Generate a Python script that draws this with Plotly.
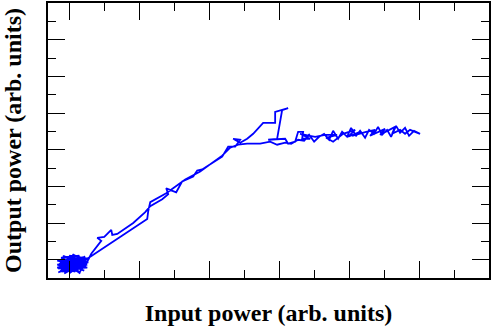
import plotly.graph_objects as go

# input / output power, arbitrary units
# noisy cluster at low power
blob_x = [-9, 6, -11, 13, -6, 1, 17, -12, 9, -3, 15, -9, 4, 19, -7, 11, -1, 16, -10, 7,
          -5, 13, 1, -12, 18, -2, 10, -8, 5, 16, -4, 9, -11, 2, 15, -6, 12, 0, 19,
          -10, 8, -3, 14, -8, 3, 17, -5, 6, -12, 11, -1, 18, -7, 4, 13, -9, 10, 19]
blob_y = [-3, 1, -9, -5, 4, -13, -1, -5, -11, 3, -7, -12, 5, -3, 0, -14, -3, 3, -7, -7,
          -14, 1, 1, -1, -8, -9, 4, 2, -11, -4, -5, -2, -13, -6, -11, -3, -9, 4, 1,
          -4, -8, -12, 0, -10, 2, -6, -1, -12, -8, -1, -10, -5, -12, 3, -6, -2, -13, 0]

# rising branch and plateau
up_x = [22, 32, 28, 35, 42, 43, 48, 64, 76, 81, 93, 99, 97, 107, 113, 124, 128, 133, 153, 159,
        166, 171, 164, 171, 178, 184, 194, 206, 206, 219, 213, 208, 199, 216, 219, 226, 229, 234,
        233, 241, 231, 246, 256, 268, 257, 264, 274, 286, 279, 291, 283, 297, 306, 301, 316, 311,
        326, 323, 331, 336, 341, 351]
up_y = [6, 19, 22, 23, 30, 25, 26, 37, 48, 54, 61, 66, 72, 68, 79, 84, 90, 91, 104, 114,
        114, 121, 122, 118, 122, 127, 138, 138, 149, 153, 151, 122, 121, 122, 117, 119, 129, 129,
        122, 122, 127, 124, 126, 126, 123, 119, 127, 131, 124, 129, 125, 129, 131, 125, 132, 126,
        134, 127, 131, 127, 131, 127]

# return branch
down_x = [345, 340, 336, 331, 327, 322, 318, 313, 309, 305, 300, 296, 291, 287, 282, 278, 273,
          269, 264, 260, 255, 250, 245, 240, 235, 229, 222, 216, 208, 201, 191, 178, 169, 161,
          153, 131, 116, 97, 81, 79, 78, 18, 11]
down_y = [130, 125, 133, 128, 135, 124, 131, 126, 134, 127, 131, 123, 130, 125, 133, 124, 129,
          122, 130, 121, 127, 124, 119, 126, 120, 121, 117, 118, 116, 119, 117, 117, 116, 113,
          105, 89, 81, 67, 58, 49, 41, 1, -3]

x = blob_x + up_x + down_x
y = blob_y + up_y + down_y

fig = go.Figure()
fig.add_trace(go.Scatter(x=x, y=y, mode="lines",
                         line=dict(color="#0000FF", width=1.8)))

axis_style = dict(
    showline=True, linecolor="black", linewidth=1.5, mirror="allticks",
    ticks="inside", ticklen=17, tickwidth=1.3, tickcolor="black",
    showticklabels=False, showgrid=False, zeroline=False, automargin=False,
)

fig.update_xaxes(
    range=[-21.3, 420], tick0=0, dtick=70,
    minor=dict(ticks="inside", ticklen=8, tickwidth=1.3, tickcolor="black", dtick=35, showgrid=False),
    title=dict(text="Input power (arb. units)", standoff=25,
               font=dict(family="Liberation Serif", size=24, color="black", weight="bold")),
    **axis_style,
)
fig.update_yaxes(
    range=[-18.5, 259], tick0=0, dtick=37,
    minor=dict(ticks="inside", ticklen=8, tickwidth=1.3, tickcolor="black", dtick=18.5, showgrid=False),
    title=dict(text="Output power (arb. units)", standoff=24,
               font=dict(family="Liberation Serif", size=24, color="black", weight="bold")),
    **axis_style,
)

fig.update_layout(
    width=491, height=327,
    margin=dict(l=48, r=2, t=3, b=49),
    paper_bgcolor="white", plot_bgcolor="white",
    showlegend=False,
)

# drop the browser's default body margin so the figure sits at the page corner
fig.write_html("out.html", config={"displayModeBar": False},
               post_script="document.body.style.margin='0px';")
